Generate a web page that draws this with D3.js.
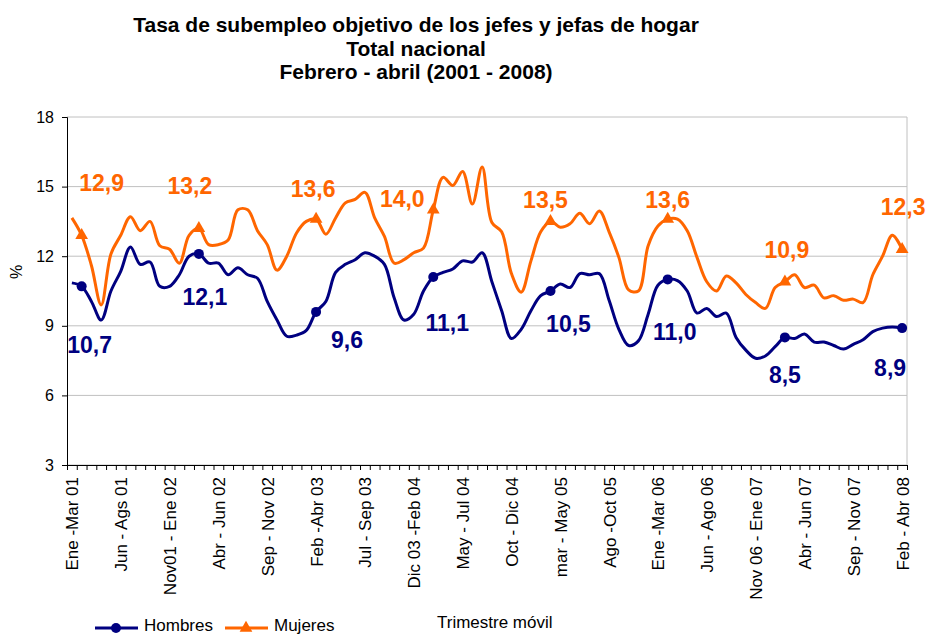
<!DOCTYPE html>
<html><head><meta charset="utf-8">
<script src="https://cdn.jsdelivr.net/npm/d3@7"></script>
<style>body{margin:0;background:#fff} svg{display:block} text{font-family:"Liberation Sans",Arial,sans-serif}</style>
</head><body><svg id="c" width="926" height="635"></svg>
<script>
const titleLines = ["Tasa de subempleo objetivo de los jefes y jefas de hogar", "Total nacional", "Febrero - abril (2001 - 2008)"];
const tickLabels = ["Ene -Mar 01","Jun - Ags 01","Nov01 - Ene 02","Abr - Jun 02","Sep - Nov 02","Feb -Abr 03","Jul - Sep 03","Dic 03 -Feb 04","May - Jul 04","Oct - Dic 04","mar - May 05","Ago -Oct 05","Ene -Mar 06","Jun - Ago 06","Nov 06 - Ene 07","Abr - Jun 07","Sep - Nov 07","Feb - Abr 08"];
const hombres = [10.85,10.7,10.05,9.25,10.5,11.35,12.4,11.65,11.75,10.7,
10.7,11.2,12.0,12.1,11.7,11.7,11.2,11.5,11.2,11.05,
10.05,9.25,8.55,8.6,8.8,9.6,10.05,11.3,11.65,11.85,
12.15,12.0,11.65,10.2,9.25,9.5,10.5,11.1,11.3,11.45,
11.8,11.75,12.15,10.9,9.65,8.45,8.85,9.65,10.3,10.5,
10.8,10.65,11.25,11.2,11.25,10.1,8.85,8.15,8.35,9.5,
10.75,11.0,10.95,10.5,9.55,9.75,9.4,9.55,8.5,7.95,
7.6,7.7,8.1,8.5,8.45,8.65,8.3,8.3,8.15,8.0,
8.2,8.4,8.75,8.9,8.95,8.9];
const mujeres = [13.65,12.9,11.6,9.9,12.1,12.9,13.7,13.1,13.5,12.45,
12.3,11.7,12.9,13.2,12.5,12.5,12.7,14.0,14.0,13.1,
12.5,11.4,12.0,13.0,13.5,13.6,12.95,13.65,14.3,14.45,
14.75,13.65,12.85,11.7,11.85,12.15,12.35,14.0,15.4,15.05,
15.65,14.25,15.85,13.45,13.05,11.25,10.45,11.8,13.05,13.5,
13.25,13.4,13.85,13.4,13.95,13.05,11.95,10.55,10.5,12.45,
13.3,13.6,13.6,13.1,11.95,10.9,10.5,11.15,10.85,10.35,
10.0,9.75,10.65,10.9,11.2,10.65,10.75,10.2,10.3,10.1,
10.15,10.0,11.2,12.0,12.9,12.3];
const markerIdx = [1,13,25,37,49,61,73,85];
const yTicks = [3,6,9,12,15,18];
const seriesNames = ["Hombres","Mujeres"];

// label placement offsets (px) relative to the marker
const hOff = [[8,59],[6,43],[31,28],[14,46],[18,33],[7,53],[0,38],[-12,40]];
const mOff = [[20,-52],[-9,-42],[-3,-30],[-31,-11],[-5,-21],[0,-19],[2,-32],[1,-42]];

const BLUE = "#000080", ORANGE = "#FF6600";
const FONT = '"Liberation Sans",Arial,sans-serif';
const svg = d3.select("#c");
const L = 67, R = 907, T = 117, B = 465;
const n = hombres.length;
const x = d3.scaleLinear().domain([0, n]).range([L, R]);
const y = d3.scaleLinear().domain([3, 18]).range([B, T]);
const cx = i => x(i + 0.5);

// title
svg.append("g").selectAll("text").data(titleLines).join("text")
  .attr("x", 416).attr("y", (d, i) => 32 + i * 23.5)
  .attr("text-anchor", "middle").attr("font-weight", "bold").attr("font-size", 21)
  .text(d => d);

// gridlines
svg.append("g").selectAll("line").data(yTicks).join("line")
  .attr("x1", L).attr("x2", R).attr("y1", d => y(d)).attr("y2", d => y(d))
  .attr("stroke", "#c0c0c0").attr("stroke-width", 1);
svg.append("line").attr("x1", R).attr("x2", R).attr("y1", T).attr("y2", B).attr("stroke", "#c0c0c0");

// y axis
const ya = svg.append("g").attr("transform", `translate(${L},0)`)
  .call(d3.axisLeft(y).tickValues(yTicks).tickSize(5).tickPadding(8).tickFormat(d3.format("d")));
ya.select(".domain").attr("stroke", "#000");
ya.selectAll("text").attr("font-size", 16).attr("fill", "#000").style("font-family", FONT);
svg.append("text").attr("transform", "translate(22,272) rotate(-90)").attr("text-anchor", "middle")
  .attr("font-size", 16).text("%");

// x axis tick marks
const xa = svg.append("g").attr("transform", `translate(0,${B})`)
  .call(d3.axisBottom(x).tickValues(d3.range(n + 1)).tickSize(5).tickFormat(""));
xa.select(".domain").attr("stroke", "#000");
// x labels
const xl = svg.append("g").attr("transform", `translate(0,${B})`)
  .call(d3.axisBottom(x).tickValues(tickLabels.map((d, i) => i * 5 + 0.5)).tickSize(0)
    .tickFormat((d, i) => tickLabels[i]));
xl.select(".domain").remove();
xl.selectAll("text").attr("font-size", 17).attr("fill", "#000")
  .style("font-family", FONT)
  .attr("text-anchor", "end").attr("dy", "0.35em").attr("y", 0)
  .attr("transform", "translate(0,12) rotate(-90)").attr("x", 0);

svg.append("text").attr("x", 437).attr("y", 628).attr("font-size", 17).text("Trimestre móvil");

// lines
const line = d3.line().x((d, i) => cx(i)).y(d => y(d)).curve(d3.curveCatmullRom.alpha(0.5));
svg.append("path").datum(hombres).attr("d", line).attr("fill", "none")
  .attr("stroke", BLUE).attr("stroke-width", 3).attr("stroke-linejoin", "round");
svg.append("path").datum(mujeres).attr("d", line).attr("fill", "none")
  .attr("stroke", ORANGE).attr("stroke-width", 3).attr("stroke-linejoin", "round");

// markers
const tri = d3.symbol().type(d3.symbolTriangle).size(70);
svg.append("g").selectAll("circle").data(markerIdx).join("circle")
  .attr("cx", i => cx(i)).attr("cy", i => y(hombres[i])).attr("r", 5).attr("fill", BLUE);
svg.append("g").selectAll("path").data(markerIdx).join("path")
  .attr("d", tri).attr("transform", i => `translate(${cx(i)},${y(mujeres[i])})`).attr("fill", ORANGE);

// data labels
const fmt = v => d3.format(".1f")(v).replace(".", ",");
svg.append("g").selectAll("text").data(markerIdx).join("text")
  .attr("x", (i, k) => cx(i) + hOff[k][0]).attr("y", (i, k) => y(hombres[i]) + hOff[k][1])
  .attr("dy", "0.35em").attr("text-anchor", "middle").attr("font-weight", "bold").attr("font-size", 23)
  .attr("fill", BLUE).text(i => fmt(hombres[i]));
svg.append("g").selectAll("text").data(markerIdx).join("text")
  .attr("x", (i, k) => cx(i) + mOff[k][0]).attr("y", (i, k) => y(mujeres[i]) + mOff[k][1])
  .attr("dy", "0.35em").attr("text-anchor", "middle").attr("font-weight", "bold").attr("font-size", 23)
  .attr("fill", ORANGE).text(i => fmt(mujeres[i]));

// legend
const lg = svg.append("g");
lg.append("line").attr("x1", 95).attr("x2", 138).attr("y1", 628).attr("y2", 628).attr("stroke", BLUE).attr("stroke-width", 3);
lg.append("circle").attr("cx", 116).attr("cy", 628).attr("r", 5).attr("fill", BLUE);
lg.append("text").attr("x", 144).attr("y", 631).attr("font-size", 17).text(seriesNames[0]);
lg.append("line").attr("x1", 225).attr("x2", 268).attr("y1", 628).attr("y2", 628).attr("stroke", ORANGE).attr("stroke-width", 3);
lg.append("path").attr("d", tri).attr("transform", "translate(246,628)").attr("fill", ORANGE);
lg.append("text").attr("x", 274).attr("y", 631).attr("font-size", 17).text(seriesNames[1]);
</script></body></html>
